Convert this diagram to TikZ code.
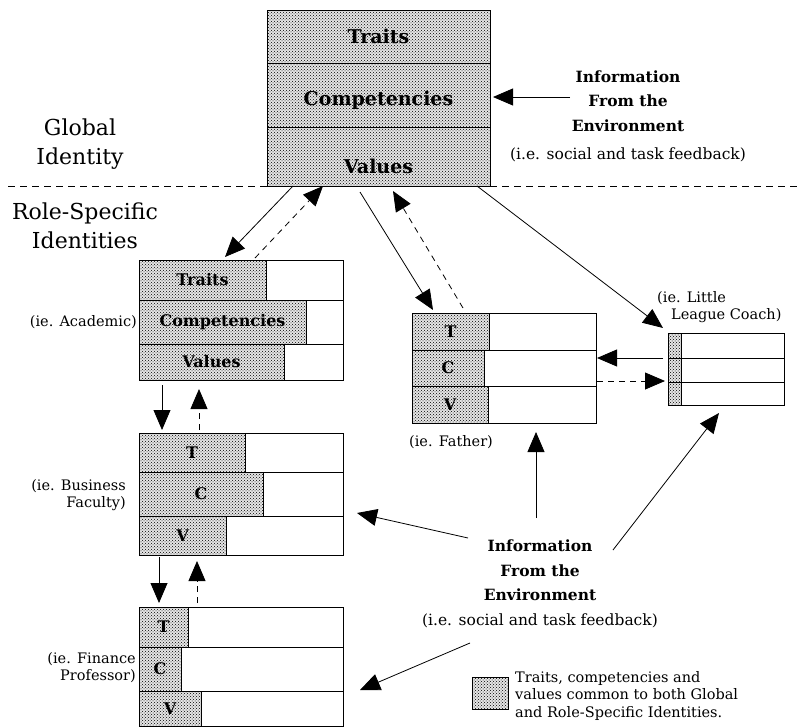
\documentclass[tikz,border=0pt]{standalone}
\usepackage{fontspec}
\setmainfont{DejaVu Serif}
\usepackage{tikz}
\usetikzlibrary{arrows.meta, positioning, calc, patterns}
\definecolor{ink}{RGB}{0, 0, 0}
\newcommand{\bigbold}{\fontsize{19}{22}\selectfont\bfseries}
\newcommand{\rowbold}{\fontsize{16}{19}\selectfont\bfseries}
\newcommand{\headfont}{\fontsize{22}{29}\selectfont}
\newcommand{\notefont}{\fontsize{14.5}{17}\selectfont}
\newcommand{\infofont}{\fontsize{15.5}{24.5}\selectfont}
\tikzstyle{cell} = [rectangle, draw=ink, line width=0.9pt, anchor=north west, inner sep=0pt, outer sep=0pt]
\tikzstyle{shared} = [cell, preaction={fill=black!10}, pattern=crosshatch dots, pattern color=ink, font=\rowbold]
\tikzstyle{own} = [cell, fill=white]
\tikzstyle{arrow} = [line width=0.8pt, -{Triangle[length=20pt, width=17pt]}]
\tikzstyle{darrow} = [arrow, dash pattern=on 6pt off 5pt]
\tikzstyle{note} = [font=\notefont, inner sep=0pt]

\begin{document}
\begin{tikzpicture}[x=1pt, y=-1pt]
    \useasboundingbox (0,0) rectangle (798,728);

    % Global identity
    \node[shared, minimum width=223pt, minimum height=53pt, font=\bigbold] (gT) at (267,10) {Traits};
    \node[shared, minimum width=223pt, minimum height=64pt, font=\bigbold,
          label={[font=\bigbold, yshift=-5pt]center:Competencies}] (gC) at (gT.south west) {};
    \node[shared, minimum width=223pt, minimum height=59pt,
          label={[font=\bigbold, yshift=-10pt]center:Values}] (gV) at (gC.south west) {};

    % Divider
    \draw[dash pattern=on 7pt off 5pt, line width=0.8pt] (8,186) -- (gV.south west);
    \draw[dash pattern=on 7pt off 5pt, line width=0.8pt] (gV.south east) -- (798,186);
    \node[font=\headfont, align=center] (global) at (80,144) {Global\\Identity};
    \node[font=\headfont, align=center] (role) at (85,226) {Role-Specific\\Identities};

    % Academic
    \node[shared, minimum width=127pt, minimum height=40pt] (aT) at (139,260) {Traits};
    \node[own, minimum width=77pt, minimum height=40pt] (aTr) at (aT.north east) {};
    \node[shared, minimum width=167pt, minimum height=44pt] (aC) at (aT.south west) {Competencies};
    \node[own, minimum width=37pt, minimum height=44pt] (aCr) at (aC.north east) {};
    \node[shared, minimum width=145pt, minimum height=36pt] (aV) at (aC.south west) {Values};
    \node[own, minimum width=59pt, minimum height=36pt] (aVr) at (aV.north east) {};
    \node[note, anchor=east] (aLbl) at (137,322) {(ie. Academic)};

    % Business faculty
    \node[shared, minimum width=106pt, minimum height=39pt] (bT) at (139,433) {T};
    \node[own, minimum width=98pt, minimum height=39pt] (bTr) at (bT.north east) {};
    \node[shared, minimum width=124pt, minimum height=44pt] (bC) at (bT.south west) {C};
    \node[own, minimum width=80pt, minimum height=44pt] (bCr) at (bC.north east) {};
    \node[shared, minimum width=87pt, minimum height=39pt] (bV) at (bC.south west) {V};
    \node[own, minimum width=117pt, minimum height=39pt] (bVr) at (bV.north east) {};
    \node[note, anchor=east, align=right] (bLbl) at (126,495) {(ie. Business\\Faculty)};

    % Finance professor
    \node[shared, minimum width=49pt, minimum height=40pt] (fiT) at (139,607) {T};
    \node[own, minimum width=155pt, minimum height=40pt] (fiTr) at (fiT.north east) {};
    \node[shared, minimum width=42pt, minimum height=44pt] (fiC) at (fiT.south west) {C};
    \node[own, minimum width=162pt, minimum height=44pt] (fiCr) at (fiC.north east) {};
    \node[shared, minimum width=62pt, minimum height=35pt] (fiV) at (fiC.south west) {V};
    \node[own, minimum width=142pt, minimum height=35pt] (fiVr) at (fiV.north east) {};
    \node[note, anchor=east, align=right] (fiLbl) at (136,668) {(ie. Finance\\Professor)};

    % Father
    \node[shared, minimum width=77pt, minimum height=37pt] (fT) at (412,313) {T};
    \node[own, minimum width=107pt, minimum height=37pt] (fTr) at (fT.north east) {};
    \node[shared, minimum width=72pt, minimum height=36pt] (fC) at (fT.south west) {C};
    \node[own, minimum width=112pt, minimum height=36pt] (fCr) at (fC.north east) {};
    \node[shared, minimum width=76pt, minimum height=37pt] (fV) at (fC.south west) {V};
    \node[own, minimum width=108pt, minimum height=37pt] (fVr) at (fV.north east) {};
    \node[note, anchor=west] (fLbl) at (409,442) {(ie. Father)};

    % Little league coach
    \node[shared, minimum width=13pt, minimum height=25pt] (cT) at (668,333) {};
    \node[own, minimum width=103pt, minimum height=25pt] (cTr) at (cT.north east) {};
    \node[shared, minimum width=13pt, minimum height=24pt] (cC) at (cT.south west) {};
    \node[own, minimum width=103pt, minimum height=24pt] (cCr) at (cC.north east) {};
    \node[shared, minimum width=13pt, minimum height=23pt] (cV) at (cC.south west) {};
    \node[own, minimum width=103pt, minimum height=23pt] (cVr) at (cV.north east) {};
    \node[note, anchor=north west, align=left] (cLbl) at (657,291) {(ie. Little\\\hspace*{14pt}League Coach)};

    % Environment
    \node[font=\infofont, align=center] (envTop) at (628,116) {\textbf{Information}\\\textbf{From the}\\\textbf{Environment}\\[3.5pt](i.e. social and task feedback)};
    \node[font=\infofont, align=center] (envLow) at (540,584) {\textbf{Information}\\\textbf{From the}\\\textbf{Environment}\\[0pt](i.e. social and task feedback)};
    \coordinate (envTopSrc) at (570,97);
    \coordinate (srcB) at (468,538);
    \coordinate (srcF) at (536,518);
    \coordinate (srcC) at (613,550);
    \coordinate (srcFi) at (470,643);

    % Legend
    \node[shared, minimum width=36pt, minimum height=32pt] (key) at (472,677) {};
    \node[note, anchor=north west, align=left, font=\fontsize{14.5}{17.5}\selectfont] (keyTxt) at (515,671) {Traits, competencies and\\values common to both Global\\and Role-Specific Identities.};

    % Global <-> roles
    \draw[arrow] ([xshift=26pt]gV.south west) -- ([xshift=86pt,yshift=3pt]aT.north west);
    \draw[darrow] ([xshift=116pt,yshift=2pt]aT.north west) -- ([xshift=56pt]gV.south west);
    \draw[arrow] ([xshift=93pt,yshift=-6pt]gV.south west) -- ([xshift=21pt,yshift=3pt]fT.north west);
    \draw[darrow] ([xshift=51pt,yshift=5pt]fT.north west) -- ([xshift=126pt,yshift=-5pt]gV.south west);
    \draw[arrow] ([xshift=210pt]gV.south west) -- ([xshift=-5pt,yshift=5pt]cT.north west);
    \draw[arrow] (envTopSrc) -- ($(envTopSrc -| gC.east)+(3,0)$);

    % Between roles
    \draw[arrow] ($(cC.north west)+(-5,0)$) -- ($(cC.north west -| fCr.east)+(1,0)$);
    \draw[darrow] ($(cV.north west -| fCr.east)+(1,-1)$) -- ($(cV.north west)+(-3,-1)$);
    \draw[arrow] ($(aV.south west)+(23,5)$) -- ($(bT.north west)+(23,-3)$);
    \draw[darrow] ($(bT.north west)+(60,-3)$) -- ($(aV.south west)+(60,9)$);
    \draw[arrow] ($(bV.south west)+(20,2)$) -- ($(fiT.north west)+(20,-4)$);
    \draw[darrow] ($(fiT.north west)+(58,-4)$) -- ($(bV.south west)+(58,6)$);

    % Environment -> roles
    \draw[arrow] (srcB) -- ($(bCr.south east)+(14,-3)$);
    \draw[arrow] (srcF) -- ($(srcF |- fVr.south)+(0,9)$);
    \draw[arrow] (srcC) -- ($(cVr.south west)+(38,8)$);
    \draw[arrow] (srcFi) -- ($(fiCr.south east)+(17,-1)$);
\end{tikzpicture}
\end{document}
